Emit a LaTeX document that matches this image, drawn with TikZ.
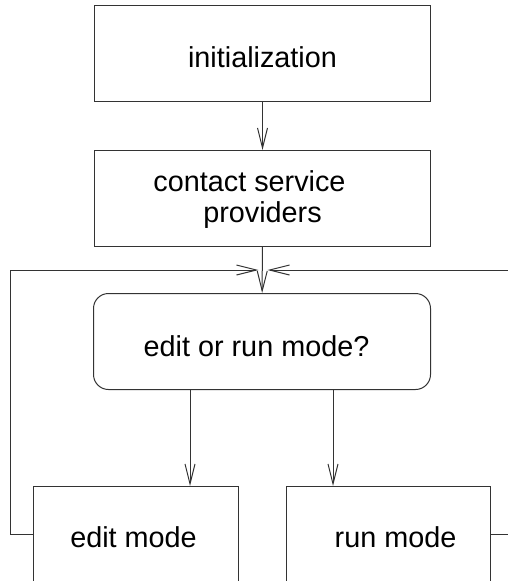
\documentclass[tikz,border=0pt]{standalone}
\usepackage{fontspec}
\setmainfont{Liberation Sans}
\usetikzlibrary{arrows.meta}
\begin{document}
\begin{tikzpicture}[x=1pt,y=-1pt, line width=1pt,
  box/.style={draw=black!80, line width=1pt, inner sep=0pt, anchor=north west,
    font=\fontsize{28.8}{31}\selectfont, align=center},
  arr/.style={draw=black!80, -{Straight Barb[length=20pt,width=10pt]}}]
\useasboundingbox (0,0) rectangle (508,581);
\clip (0,0) rectangle (508,581);
\node[box, minimum width=336pt, minimum height=96pt, text height=28pt, text depth=0pt] (init) at (94,5) {initialization};
\node[box, minimum width=336pt, minimum height=96pt, text depth=4pt] (contact) at (94,150) {contact service\hspace*{26pt}\\providers};
\node[box, rounded corners=15pt, minimum width=337pt, minimum height=96pt, text height=30pt, text depth=0pt] (dec) at (93,293) {edit or run mode?\hspace*{11pt}};
\node[box, minimum width=205pt, minimum height=102pt] (edit) at (33,486) {edit mode\hspace*{5pt}};
\node[box, minimum width=204pt, minimum height=102pt] (run) at (286,486) {\hspace*{14pt}run mode};
\coordinate (lc) at (10,270);
\coordinate (rc) at (520,270);
\draw[arr] (init) -- (contact);
\draw[arr] (contact) -- (dec);
\draw[arr] ([xshift=97pt]dec.south west) -- ([xshift=97pt]dec.south west |- edit.north);
\draw[arr] ([xshift=240pt]dec.south west) -- ([xshift=240pt]dec.south west |- run.north);
\draw[arr] ([yshift=3pt]edit.west) -| (lc) -- ([xshift=-4pt]contact.south |- lc);
\draw[arr] ([yshift=3pt]run.east) -| (rc) -- ([xshift=5pt]contact.south |- rc);
\end{tikzpicture}
\end{document}
